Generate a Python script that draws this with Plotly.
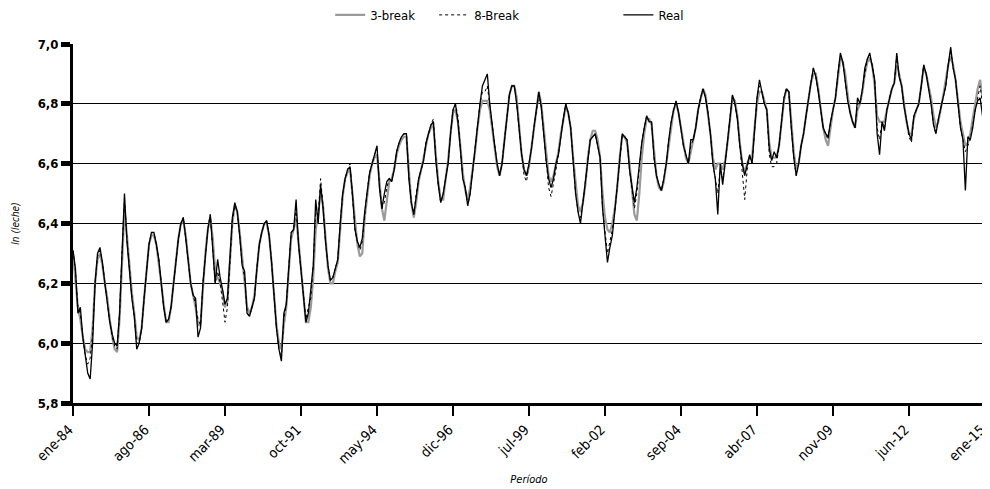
import plotly.graph_objects as go

meses = ["ene", "feb", "mar", "abr", "may", "jun", "jul", "ago", "sep", "oct", "nov", "dic"]
anios = list(range(1984, 2016))
periodos = [f"{m}-{str(a)[2:]}" for a in anios for m in meses][:373]

real = [
    6.31, 6.25, 6.10, 6.12, 6.02, 5.95, 5.90, 5.88, 6.00, 6.20, 6.30, 6.32,
    6.27, 6.20, 6.14, 6.07, 6.03, 6.00, 5.99, 6.10, 6.30, 6.50, 6.34, 6.25,
    6.15, 6.09, 5.98, 6.00, 6.05, 6.15, 6.25, 6.33, 6.37, 6.37, 6.33, 6.28,
    6.20, 6.12, 6.07, 6.08, 6.12, 6.20, 6.28, 6.35, 6.40, 6.42, 6.35, 6.27,
    6.20, 6.16, 6.15, 6.02, 6.05, 6.20, 6.30, 6.38, 6.43, 6.32, 6.20, 6.28,
    6.22, 6.18, 6.13, 6.15, 6.30, 6.42, 6.47, 6.44, 6.36, 6.26, 6.24, 6.10,
    6.09, 6.12, 6.15, 6.25, 6.33, 6.37, 6.40, 6.41, 6.36, 6.27, 6.15, 6.05,
    5.98, 5.94, 6.10, 6.13, 6.25, 6.37, 6.38, 6.48, 6.33, 6.25, 6.15, 6.07,
    6.10, 6.19, 6.26, 6.48, 6.40, 6.53, 6.45, 6.34, 6.26, 6.21, 6.22, 6.25,
    6.28, 6.40, 6.50, 6.55, 6.58, 6.59, 6.50, 6.38, 6.34, 6.32, 6.35, 6.44,
    6.51, 6.57, 6.60, 6.63, 6.66, 6.52, 6.45, 6.50, 6.54, 6.55, 6.54, 6.58,
    6.64, 6.67, 6.69, 6.70, 6.70, 6.55, 6.47, 6.43, 6.50, 6.55, 6.58, 6.61,
    6.67, 6.70, 6.73, 6.74, 6.61, 6.53, 6.47, 6.50, 6.55, 6.60, 6.70, 6.78,
    6.80, 6.74, 6.65, 6.55, 6.52, 6.46, 6.50, 6.58, 6.64, 6.72, 6.80, 6.86,
    6.88, 6.90, 6.80, 6.72, 6.66, 6.60, 6.56, 6.60, 6.68, 6.76, 6.83, 6.86,
    6.86, 6.80, 6.70, 6.63, 6.58, 6.56, 6.60, 6.65, 6.72, 6.78, 6.84, 6.79,
    6.70, 6.61, 6.55, 6.52, 6.55, 6.60, 6.63, 6.70, 6.75, 6.80, 6.77, 6.72,
    6.60, 6.50, 6.44, 6.40, 6.47, 6.54, 6.62, 6.68, 6.69, 6.70, 6.66, 6.62,
    6.45, 6.37, 6.27, 6.32, 6.36, 6.44, 6.52, 6.62, 6.70, 6.69, 6.68, 6.58,
    6.52, 6.47, 6.52, 6.60, 6.67, 6.72, 6.76, 6.74, 6.74, 6.62, 6.56, 6.53,
    6.51, 6.55, 6.60, 6.68, 6.74, 6.78, 6.81, 6.77, 6.72, 6.66, 6.63, 6.60,
    6.68, 6.68, 6.72, 6.78, 6.82, 6.85, 6.82, 6.77, 6.70, 6.60, 6.55, 6.43,
    6.60, 6.53, 6.60, 6.67, 6.76, 6.83, 6.80, 6.75, 6.66, 6.60, 6.56, 6.60,
    6.63, 6.60, 6.72, 6.82, 6.88, 6.84, 6.80, 6.78, 6.65, 6.61, 6.64, 6.62,
    6.66, 6.74, 6.82, 6.85, 6.84, 6.72, 6.62, 6.56, 6.60, 6.66, 6.70, 6.76,
    6.82, 6.87, 6.92, 6.89, 6.84, 6.77, 6.72, 6.70, 6.69, 6.74, 6.78, 6.82,
    6.90, 6.97, 6.94, 6.88, 6.81, 6.77, 6.74, 6.72, 6.82, 6.80, 6.85, 6.92,
    6.95, 6.97, 6.93, 6.88, 6.70, 6.63, 6.74, 6.71, 6.78, 6.82, 6.85, 6.87,
    6.97, 6.89, 6.86, 6.79, 6.74, 6.70, 6.68, 6.76, 6.78, 6.80, 6.86, 6.93,
    6.90, 6.85, 6.80, 6.73, 6.70, 6.75, 6.79, 6.83, 6.86, 6.93, 6.99, 6.92,
    6.88, 6.80, 6.72, 6.68, 6.51, 6.69, 6.68, 6.72, 6.78, 6.81, 6.82, 6.76,
    6.69,
]

break3 = [
    6.30, 6.22, 6.12, 6.08, 6.02, 5.98, 5.97, 5.97, 6.05, 6.20, 6.28, 6.30,
    6.26, 6.20, 6.15, 6.08, 6.02, 5.98, 5.97, 6.08, 6.28, 6.45, 6.36, 6.26,
    6.17, 6.10, 6.02, 6.01, 6.05, 6.15, 6.25, 6.33, 6.36, 6.36, 6.33, 6.27,
    6.20, 6.13, 6.07, 6.07, 6.12, 6.20, 6.28, 6.35, 6.40, 6.41, 6.36, 6.27,
    6.20, 6.16, 6.12, 6.06, 6.06, 6.18, 6.30, 6.38, 6.42, 6.35, 6.24, 6.22,
    6.20, 6.17, 6.12, 6.14, 6.28, 6.40, 6.46, 6.44, 6.37, 6.28, 6.20, 6.12,
    6.10, 6.12, 6.16, 6.25, 6.33, 6.37, 6.40, 6.40, 6.36, 6.27, 6.16, 6.06,
    6.00, 5.98, 6.06, 6.12, 6.24, 6.35, 6.38, 6.42, 6.34, 6.24, 6.14, 6.07,
    6.07, 6.12, 6.22, 6.38, 6.43, 6.51, 6.46, 6.35, 6.25, 6.20, 6.20, 6.24,
    6.27, 6.38, 6.49, 6.55, 6.57, 6.58, 6.50, 6.40, 6.33, 6.29, 6.30, 6.42,
    6.50, 6.56, 6.60, 6.62, 6.63, 6.54, 6.45, 6.41, 6.48, 6.54, 6.55, 6.58,
    6.63, 6.66, 6.68, 6.69, 6.69, 6.57, 6.47, 6.42, 6.47, 6.54, 6.58, 6.61,
    6.66, 6.70, 6.72, 6.73, 6.63, 6.54, 6.48, 6.48, 6.55, 6.61, 6.70, 6.77,
    6.78, 6.74, 6.66, 6.57, 6.51, 6.48, 6.52, 6.58, 6.64, 6.72, 6.78, 6.81,
    6.81, 6.81, 6.78, 6.72, 6.65, 6.59, 6.56, 6.60, 6.68, 6.76, 6.83, 6.86,
    6.86, 6.82, 6.72, 6.63, 6.58, 6.56, 6.59, 6.65, 6.72, 6.78, 6.84, 6.80,
    6.72, 6.63, 6.56, 6.54, 6.56, 6.60, 6.64, 6.70, 6.75, 6.79, 6.77, 6.72,
    6.62, 6.53, 6.46, 6.44, 6.47, 6.53, 6.62, 6.68, 6.71, 6.71, 6.68, 6.62,
    6.50, 6.42, 6.38, 6.37, 6.40, 6.45, 6.52, 6.62, 6.69, 6.69, 6.67, 6.60,
    6.52, 6.43, 6.41, 6.50, 6.62, 6.70, 6.75, 6.75, 6.73, 6.64, 6.56, 6.52,
    6.51, 6.54, 6.60, 6.67, 6.73, 6.78, 6.80, 6.77, 6.72, 6.67, 6.62, 6.60,
    6.64, 6.68, 6.72, 6.78, 6.82, 6.85, 6.83, 6.77, 6.70, 6.62, 6.58, 6.60,
    6.60, 6.58, 6.61, 6.67, 6.75, 6.82, 6.81, 6.76, 6.67, 6.60, 6.57, 6.60,
    6.62, 6.62, 6.72, 6.80, 6.84, 6.84, 6.81, 6.78, 6.67, 6.62, 6.62, 6.62,
    6.66, 6.74, 6.81, 6.85, 6.84, 6.74, 6.64, 6.58, 6.60, 6.66, 6.70, 6.76,
    6.82, 6.87, 6.90, 6.90, 6.85, 6.78, 6.72, 6.68, 6.66, 6.72, 6.78, 6.82,
    6.88, 6.95, 6.94, 6.90, 6.83, 6.77, 6.74, 6.72, 6.78, 6.80, 6.84, 6.90,
    6.94, 6.95, 6.93, 6.86, 6.76, 6.74, 6.74, 6.74, 6.78, 6.82, 6.85, 6.87,
    6.93, 6.90, 6.86, 6.80, 6.74, 6.70, 6.70, 6.75, 6.78, 6.80, 6.86, 6.92,
    6.90, 6.86, 6.82, 6.76, 6.72, 6.74, 6.78, 6.83, 6.88, 6.93, 6.96, 6.93,
    6.88, 6.81, 6.74, 6.70, 6.66, 6.67, 6.70, 6.75, 6.80, 6.85, 6.88, 6.82,
    6.79,
]

break8 = [
    6.31, 6.24, 6.12, 6.10, 6.02, 5.96, 5.93, 5.95, 6.03, 6.20, 6.29, 6.31,
    6.27, 6.20, 6.14, 6.07, 6.02, 5.99, 5.98, 6.10, 6.30, 6.48, 6.35, 6.25,
    6.16, 6.09, 6.00, 6.00, 6.05, 6.15, 6.25, 6.33, 6.37, 6.37, 6.33, 6.28,
    6.20, 6.12, 6.07, 6.08, 6.12, 6.20, 6.28, 6.35, 6.40, 6.42, 6.35, 6.27,
    6.20, 6.16, 6.13, 6.08, 6.06, 6.20, 6.30, 6.38, 6.43, 6.33, 6.20, 6.24,
    6.20, 6.14, 6.07, 6.12, 6.28, 6.41, 6.46, 6.44, 6.36, 6.26, 6.22, 6.10,
    6.09, 6.12, 6.15, 6.25, 6.33, 6.37, 6.40, 6.41, 6.36, 6.27, 6.15, 6.05,
    5.98, 5.95, 6.08, 6.13, 6.25, 6.37, 6.38, 6.45, 6.33, 6.25, 6.15, 6.08,
    6.12, 6.15, 6.26, 6.45, 6.42, 6.55, 6.46, 6.34, 6.26, 6.21, 6.22, 6.25,
    6.28, 6.40, 6.50, 6.55, 6.58, 6.60, 6.50, 6.38, 6.34, 6.31, 6.34, 6.44,
    6.51, 6.57, 6.60, 6.63, 6.65, 6.53, 6.45, 6.47, 6.52, 6.55, 6.54, 6.58,
    6.64, 6.67, 6.69, 6.70, 6.70, 6.56, 6.47, 6.43, 6.50, 6.55, 6.58, 6.61,
    6.67, 6.70, 6.73, 6.75, 6.62, 6.53, 6.47, 6.50, 6.55, 6.60, 6.70, 6.78,
    6.80, 6.76, 6.65, 6.55, 6.52, 6.46, 6.50, 6.58, 6.64, 6.72, 6.80, 6.84,
    6.84, 6.86, 6.79, 6.72, 6.66, 6.60, 6.56, 6.60, 6.68, 6.76, 6.83, 6.86,
    6.86, 6.80, 6.70, 6.63, 6.56, 6.54, 6.60, 6.65, 6.72, 6.78, 6.83, 6.79,
    6.70, 6.61, 6.52, 6.49, 6.53, 6.58, 6.63, 6.70, 6.75, 6.80, 6.77, 6.72,
    6.60, 6.50, 6.44, 6.42, 6.47, 6.54, 6.62, 6.68, 6.69, 6.70, 6.66, 6.62,
    6.45, 6.37, 6.30, 6.34, 6.38, 6.44, 6.52, 6.62, 6.69, 6.69, 6.68, 6.58,
    6.52, 6.45, 6.50, 6.60, 6.67, 6.72, 6.76, 6.74, 6.74, 6.62, 6.56, 6.53,
    6.51, 6.55, 6.60, 6.68, 6.74, 6.78, 6.81, 6.77, 6.72, 6.66, 6.63, 6.60,
    6.66, 6.68, 6.72, 6.78, 6.82, 6.85, 6.82, 6.77, 6.70, 6.60, 6.55, 6.50,
    6.58, 6.55, 6.60, 6.67, 6.76, 6.83, 6.80, 6.75, 6.66, 6.58, 6.48, 6.58,
    6.62, 6.60, 6.72, 6.82, 6.86, 6.84, 6.80, 6.78, 6.63, 6.59, 6.59, 6.60,
    6.66, 6.74, 6.82, 6.85, 6.84, 6.72, 6.62, 6.56, 6.60, 6.66, 6.70, 6.76,
    6.82, 6.87, 6.92, 6.89, 6.84, 6.77, 6.72, 6.70, 6.68, 6.74, 6.78, 6.82,
    6.90, 6.96, 6.94, 6.88, 6.81, 6.77, 6.74, 6.72, 6.80, 6.80, 6.85, 6.91,
    6.95, 6.96, 6.93, 6.88, 6.72, 6.68, 6.74, 6.72, 6.78, 6.82, 6.85, 6.87,
    6.96, 6.89, 6.86, 6.79, 6.74, 6.69, 6.67, 6.76, 6.78, 6.80, 6.86, 6.93,
    6.90, 6.85, 6.80, 6.73, 6.70, 6.75, 6.79, 6.83, 6.86, 6.93, 6.98, 6.92,
    6.88, 6.80, 6.72, 6.68, 6.64, 6.66, 6.68, 6.73, 6.78, 6.82, 6.86, 6.80,
    6.79,
]

tick_labels = ["ene-84", "ago-86", "mar-89", "oct-91", "may-94", "dic-96", "jul-99",
               "feb-02", "sep-04", "abr-07", "nov-09", "jun-12", "ene-15"]

FONT = "Liberation Sans Narrow, Arial Narrow, DejaVu Sans Condensed, sans-serif"

fig = go.Figure()
fig.add_trace(go.Scatter(x=periodos, y=break3, mode="lines", name="3-break",
                         legend="legend",
                         line=dict(color="#9a9a9a", width=2.2)))
fig.add_trace(go.Scatter(x=periodos, y=break8, mode="lines", name="8-Break",
                         legend="legend2",
                         line=dict(color="#000000", width=1, dash="dot")))
fig.add_trace(go.Scatter(x=periodos, y=real, mode="lines", name="Real",
                         legend="legend3",
                         line=dict(color="#000000", width=1.3)))

leg = dict(orientation="h", xanchor="left", y=1.081, yanchor="middle",
           font=dict(size=13), bgcolor="rgba(0,0,0,0)")

# the page body adds an 8px offset; margins compensate so the plot area
# lands at x 73..985, y 44..403 in the 990x489 window
fig.update_layout(
    width=990, height=489,
    margin=dict(l=65, r=13, t=36, b=94, autoexpand=False),
    paper_bgcolor="white", plot_bgcolor="white",
    separators=",.",
    font=dict(family=FONT, size=12, color="black"),
    showlegend=True,
    legend=dict(leg, x=0.282),
    legend2=dict(leg, x=0.396),
    legend3=dict(leg, x=0.598),
    xaxis=dict(
        type="category", automargin=False,
        range=[0, 372],
        tickmode="array", tickvals=tick_labels, ticktext=tick_labels,
        tickangle=-45, ticklabelshift=-4,
        ticks="outside", ticklen=10, tickwidth=2, tickcolor="black",
        showline=True, linewidth=3, linecolor="black",
        showgrid=False, zeroline=False,
        tickfont=dict(size=14),
        title=dict(text="<i>Período</i>", font=dict(size=11), standoff=10),
    ),
    yaxis=dict(
        automargin=False,
        range=[5.8, 7.0], dtick=0.2, tick0=5.8, tickformat=".1f",
        ticks="outside", ticklen=9, tickwidth=5, tickcolor="black",
        showline=True, linewidth=3, linecolor="black",
        showgrid=True, gridcolor="black", gridwidth=1,
        zeroline=False,
        tickfont=dict(size=13, weight="bold"),
        title=dict(text="<i>ln (leche)</i>", font=dict(size=10), standoff=17),
    ),
)

fig.write_html("out.html")
